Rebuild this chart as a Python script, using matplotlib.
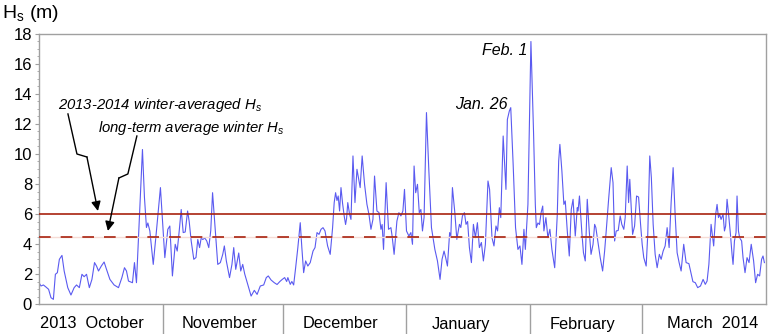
import numpy as np
import matplotlib
matplotlib.use("Agg")
import matplotlib.pyplot as plt
from matplotlib.ticker import MultipleLocator

plt.rcParams.update({
    "font.family": ["Liberation Sans", "DejaVu Sans"],
    "mathtext.fontset": "custom",
    "mathtext.rm": "Liberation Sans",
    "mathtext.it": "Liberation Sans:italic",
})

# days since 2013-10-01 and significant wave height (m)
days = [
    0, 0.5, 1.1, 1.75, 2.4, 3.0, 3.6, 4.1, 4.6, 5.1, 5.75, 6.3, 7.2, 8.0, 8.8, 9.4,
    10.1, 10.75, 11.3, 11.9, 12.6, 13.25, 13.9, 14.4, 14.9, 15.6, 16.3, 16.9, 17.75,
    18.8, 19.9, 20.75, 21.4, 21.9, 22.4, 23.4, 23.9, 24.4, 25.25, 25.9, 26.4, 26.9,
    27.25, 27.75, 28.6, 29.4, 30.4, 31.5,
    32.25, 32.75, 33.4, 34.1, 34.6, 35.1, 35.6, 36.1, 36.6, 37.2, 37.6, 38.1, 38.75,
    39.3, 39.75, 40.2, 40.6, 41.0, 41.5, 42.0, 42.5, 43.0, 43.45, 44.1, 44.75, 45.4,
    46.0, 46.4, 46.9, 47.7, 48.3, 48.75, 49.25, 50.0, 50.5, 51.0, 51.5, 52.25, 53.1,
    53.9, 54.6, 55.4, 56.25, 56.9, 57.4, 58.1, 58.9, 59.6, 60.3, 60.9, 61.5,
    62.0, 62.3, 62.9, 63.3, 63.75, 64.25, 64.8, 65.4, 65.8, 66.25, 66.75, 67.3, 67.9,
    68.6, 69.1, 69.6, 70.1, 70.6, 71.1, 71.6, 72.25, 72.9, 73.5, 73.9, 74.25, 74.6,
    74.9, 75.25, 75.6, 76.0, 76.4, 76.75, 77.0, 77.3, 77.75, 78.1, 78.6, 79.1, 79.6,
    80.1, 80.4, 80.9, 81.5, 82.1, 82.6, 83.1, 83.6, 84.0, 84.6, 85.1, 85.6, 85.9,
    86.25, 86.9, 87.5, 88.1, 88.4, 88.9, 89.6, 90.1, 90.6, 91.1, 91.5, 92.0, 92.6,
    93.1, 93.5, 93.9, 94.3, 94.75, 95.2, 95.6, 96.0, 96.4, 97.0, 97.6, 98.25, 99.1,
    99.75, 100.4, 100.9, 101.4, 101.8, 102.25, 102.8, 103.1, 103.5, 104.1, 104.6,
    105.25, 105.6, 106.0, 106.5, 106.9, 107.3, 107.75, 108.25, 108.75, 109.25,
    109.75, 110.25, 110.75, 111.25, 111.75, 112.4, 112.8, 113.4, 113.9, 114.4,
    114.8, 115.25, 115.6, 116.2, 116.9, 117.25, 117.75, 118.1, 118.7, 119.3, 119.9,
    120.4, 120.9, 121.4, 121.75, 122.4, 123.15, 123.8, 124.25, 124.5, 124.9, 125.3,
    125.7, 126.1, 126.4, 126.9, 127.4, 127.9, 128.4, 129.1, 129.75, 130.1, 130.4,
    130.9, 131.4, 131.75, 132.25, 132.75, 133.25, 133.7, 134.25, 134.75, 134.95,
    135.3, 135.9, 136.3, 136.75, 137.25, 137.75, 138.2, 138.7, 139.1, 139.4, 139.9,
    140.5, 141.1, 141.6, 142.0, 142.6, 143.25, 143.7, 144.1, 144.5, 145.0, 145.5,
    145.9, 146.4, 146.75, 147.25, 147.6, 147.9, 148.25, 148.6, 149.1, 149.6, 150.1,
    150.6, 151.0, 151.4, 152.0, 152.4, 152.9, 153.3, 153.75, 154.25, 154.75, 155.3,
    155.75, 156.25, 156.75, 157.25, 157.75, 158.25, 158.75, 159.25, 159.75, 160.25,
    160.75, 161.4, 162.0, 162.7, 163.1, 163.7, 164.3, 164.9, 165.6, 166.25, 166.8,
    167.25, 167.7, 168.25, 168.9, 169.4, 169.75, 170.1, 170.4, 170.75, 171.25, 171.6,
    171.9, 172.25, 172.6, 173.1, 173.5, 173.75, 174.1, 174.5, 174.75, 175.1, 175.4,
    175.9, 176.25, 176.75, 177.25, 177.75, 178.3, 178.9, 179.4, 179.9, 180.4, 180.9,
    181.25, 181.6,
]
hs = [
    1.42, 1.2, 1.27, 1.13, 0.98, 0.42, 0.31, 1.98, 2.09, 2.98, 3.24, 2.2, 1.09, 0.6,
    1.09, 1.27, 1.09, 1.98, 1.82, 1.98, 1.09, 1.64, 2.76, 2.53, 2.2, 2.53, 2.8, 2.31,
    1.64, 1.27, 1.09, 1.76, 2.42, 2.2, 1.53, 1.42, 2.76, 1.42, 6.42, 10.3, 7.1, 5.1,
    5.4, 4.87, 2.64, 4.87, 7.76, 3.09,
    4.98, 5.2, 1.87, 3.98, 3.53, 4.87, 6.3, 4.76, 4.8, 6.2, 5.5, 4.2, 2.98, 3.1, 4.3,
    3.76, 4.4, 4.3, 4.4, 4.2, 3.76, 4.9, 7.42, 5.0, 2.64, 2.76, 3.31, 3.87, 2.87,
    1.76, 2.64, 3.76, 2.31, 3.4, 2.2, 2.64, 2.0, 1.31, 0.53, 0.91, 0.64, 1.2, 1.27,
    1.76, 1.87, 1.6, 1.42, 1.3, 1.5, 1.64, 1.76,
    1.5, 1.76, 1.31, 1.5, 1.27, 2.42, 3.76, 5.42, 3.76, 2.09, 2.87, 2.53, 2.76, 3.53,
    3.76, 4.76, 4.64, 4.98, 5.09, 4.87, 3.87, 3.31, 5.09, 6.76, 7.42, 6.9, 7.2, 6.2,
    7.76, 6.7, 5.87, 5.3, 5.7, 6.76, 5.98, 5.64, 9.87, 6.76, 8.98, 8.2, 7.76, 9.87,
    7.98, 6.64, 5.98, 4.98, 5.64, 8.53, 6.2, 6.1, 4.98, 5.3, 3.64, 8.09, 4.98, 5.09,
    4.53, 3.31, 5.53, 6.09, 5.87, 6.2, 7.64, 4.87, 4.53,
    4.76, 3.98, 9.2, 7.42, 7.98, 6.09, 6.3, 4.87, 5.76, 12.76, 8.87, 5.09, 3.64, 2.87,
    1.64, 2.98, 3.53, 3.1, 2.53, 4.76, 4.53, 7.76, 6.09, 4.31, 5.31, 5.1, 5.87, 6.09,
    5.31, 5.5, 3.76, 2.76, 5.31, 4.42, 5.42, 3.76, 4.1, 2.87, 3.98, 8.2, 7.64, 4.42,
    3.87, 5.2, 4.87, 6.42, 5.76, 11.2, 7.64, 12.3, 12.87, 13.09, 9.31, 5.09, 3.64,
    3.87, 2.64, 4.98, 3.64, 6.64, 17.5, 11.5, 6.64, 5.09, 5.4, 5.3, 6.09, 6.53, 4.87,
    5.76, 4.42, 4.98, 3.64, 2.42, 5.98, 9.53, 10.64, 8.87, 6.64, 6.87, 4.87, 3.2,
    6.31, 6.98, 4.53, 6.42, 6.2, 7.2, 4.76, 3.42, 2.87, 6.98, 4.87, 3.31, 3.98, 5.31,
    5.1, 4.2, 3.09, 2.2, 3.53, 4.87, 6.98, 9.09, 8.09, 4.2, 4.87, 4.9, 5.87, 5.31,
    4.98, 5.76, 9.2, 6.76, 8.31, 6.42, 4.64, 5.2, 7.2, 7.13, 5.31, 3.98, 3.09, 2.53,
    4.64, 9.87, 8.42, 5.31, 3.31, 2.42, 3.31, 2.98, 3.53, 3.87, 5.09, 3.76, 6.76,
    9.09, 5.98, 3.42, 2.76, 2.2, 3.98, 2.76, 2.69, 2.2, 1.49, 1.42, 1.09, 1.2, 1.64,
    1.31, 1.53, 2.64, 5.31, 3.87, 5.98, 6.64, 5.76, 5.98, 5.64, 5.98, 4.87, 5.2,
    6.98, 6.09, 4.64, 3.31, 2.64, 4.2, 4.76, 7.2, 4.87, 4.42, 4.2, 3.09, 2.09, 3.09,
    2.76, 3.98, 2.87, 1.42, 1.98, 1.87, 2.98, 3.2, 2.76,
]

winter_mean = 6.0
longterm_mean = 4.5

month_edges = [31, 61, 92, 123, 151]
month_label_pos = [13.25, 45.25, 75.5, 105.75, 136.0, 168.75]
month_labels = ["2013  October", "November", "December", "January",
                "February", "March  2014"]

GRAY = "#a0a0a0"
BLUE = "#5a5af0"
RED = "#a8220f"

fig = plt.figure(figsize=(7.68, 3.34), dpi=100)
ax = fig.add_axes([39 / 768, 30 / 334, 727 / 768, 270 / 334])

ax.plot(days, hs, color=BLUE, lw=0.8, zorder=2)

ax.axhline(winter_mean, color=RED, lw=1.2, zorder=3)
ax.axhline(longterm_mean, color="#f6dcd6", lw=1.0, zorder=3)
ax.axhline(longterm_mean, color=RED, lw=1.2, ls=(0, (7, 6)), zorder=3)

ax.set_xlim(0, 182)
ax.set_ylim(0, 18)

for s in ax.spines.values():
    s.set_color(GRAY)
    s.set_linewidth(1.0)

ax.yaxis.set_major_locator(MultipleLocator(2))
ax.yaxis.set_minor_locator(MultipleLocator(0.5))
ax.tick_params(axis="y", which="major", length=3, color=GRAY, labelsize=12, pad=2)
ax.tick_params(axis="y", which="minor", length=1.5, color=GRAY)

# month separators as long ticks, labels as minor ticks
ax.set_xticks(month_edges)
ax.set_xticklabels([""] * len(month_edges))
ax.set_xticks(month_label_pos, minor=True)
ax.set_xticklabels(month_labels, minor=True)
ax.tick_params(axis="x", which="major", length=22, width=1.0, color=GRAY)
ax.tick_params(axis="x", which="minor", length=0, labelsize=11.8, pad=9)

fig.text(2 / 768, 1 - 13 / 334, r"H$_\mathrm{s}$ (m)", fontsize=14,
         ha="left", va="center")

# annotations
ax.text(4.75, 13.27, r"2013-2014 winter-averaged H$_\mathit{s}$",
        style="italic", fontsize=10.7, ha="left", va="center")
ax.text(14.75, 11.73, r"long-term average winter H$_\mathit{s}$",
        style="italic", fontsize=10.7, ha="left", va="center")

ax.plot([7.25, 9.5, 12.0], [12.67, 10.0, 9.8], color="k", lw=1.0)
ax.annotate("", xy=(14.75, 6.2), xytext=(12.0, 9.8),
            arrowprops=dict(arrowstyle="-|>", color="k", lw=1.0,
                            mutation_scale=14, shrinkA=0, shrinkB=0))
ax.plot([24.5, 22.25, 20.0], [11.2, 8.67, 8.4], color="k", lw=1.0)
ax.annotate("", xy=(17.25, 4.87), xytext=(20.0, 8.4),
            arrowprops=dict(arrowstyle="-|>", color="k", lw=1.0,
                            mutation_scale=14, shrinkA=0, shrinkB=0))

ax.text(117.25, 13.33, "Jan. 26", style="italic", fontsize=11.5,
        ha="right", va="center")
ax.text(122.25, 16.87, "Feb. 1", style="italic", fontsize=11.5,
        ha="right", va="center")

fig.savefig("out.png", dpi=100)
